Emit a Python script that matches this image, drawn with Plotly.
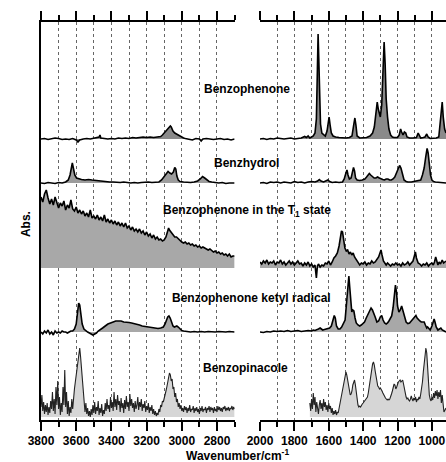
import plotly.graph_objects as go

# ---------------- data (wavenumber / cm-1, absorbance in arbitrary units above each baseline) -------------
OFFSET_BENZOPHENONE = 281
OFFSET_BENZHYDROL = 237
OFFSET_T1 = 152
OFFSET_KETYL = 88
OFFSET_PINACOLE = 3

BENZOPHENONE_HIGH = [
    (3800, 0), (3780, 0.5), (3760, -0.5), (3740, 0), (3720, 1), (3700, 0.5), (3680, -0.5), (3660, 0),
    (3640, -0.5), (3620, 0.5), (3600, -1), (3590, -3), (3580, -1), (3560, 0), (3540, 0.5), (3520, 0),
    (3500, 0.5), (3480, 1), (3470, 2), (3465, 4), (3460, 1), (3440, 0.5), (3420, 0), (3400, 0.5),
    (3380, 0), (3360, 1), (3340, 0.5), (3320, 1), (3300, 0.5), (3280, 1.5), (3260, 1), (3240, 1.5),
    (3220, 2), (3200, 1.5), (3180, 2), (3160, 1.5), (3140, 2), (3120, 2.5), (3110, 4), (3100, 6),
    (3090, 8), (3080, 9.5), (3070, 11), (3065, 13), (3060, 12), (3055, 10), (3050, 8), (3040, 6),
    (3030, 5), (3020, 3.5), (3010, 2.5), (3000, 1.5), (2990, 1), (2980, 0.5), (2960, 0), (2940, -1),
    (2920, 0.5), (2900, 0), (2890, -2), (2880, 0), (2860, 0.5), (2840, 0), (2820, -0.5), (2800, 0),
    (2780, 0.5), (2760, -0.5), (2740, 0), (2720, -1), (2700, 0),
]
BENZOPHENONE_LOW = [
    (2000, 0), (1980, 0.5), (1960, -0.5), (1940, 0.5), (1920, 0), (1900, 1), (1880, 0.5), (1860, 0),
    (1840, 0.5), (1820, 1), (1800, 0), (1780, 0.5), (1760, 1), (1740, 2.5), (1730, 1.5), (1720, 3),
    (1710, 1), (1700, 2), (1690, 3), (1680, 6), (1672, 20), (1666, 70), (1662, 105), (1658, 80),
    (1654, 40), (1648, 15), (1640, 6), (1630, 4), (1620, 3), (1610, 8), (1603, 20), (1598, 22),
    (1592, 14), (1585, 6), (1575, 3), (1560, 2), (1540, 1.5), (1520, 1), (1500, 1), (1480, 1.5),
    (1465, 3), (1455, 14), (1448, 21), (1442, 14), (1435, 3), (1420, 1), (1400, 1), (1380, 1.5),
    (1360, 3), (1345, 6), (1335, 12), (1325, 28), (1318, 37), (1312, 30), (1306, 26), (1300, 22),
    (1292, 34), (1285, 70), (1278, 97), (1272, 75), (1266, 40), (1258, 22), (1250, 10), (1240, 4),
    (1230, 2), (1220, 1.5), (1200, 1.5), (1190, 4), (1182, 10), (1176, 7), (1168, 4), (1160, 7),
    (1152, 6), (1145, 2), (1130, 1), (1110, 1), (1090, 1.5), (1080, 6), (1074, 4), (1065, 1),
    (1050, 1.5), (1040, 2), (1030, 5), (1022, 2), (1010, 0.5), (990, 0.5), (975, 1), (960, 2),
    (952, 15), (946, 30), (940, 37), (934, 22), (926, 10), (918, 6),
]

BENZHYDROL_HIGH = [
    (3800, 0), (3780, -0.5), (3760, 0.5), (3740, 0), (3720, -0.5), (3700, 0.5), (3680, 0), (3660, 1),
    (3645, 3), (3635, 8), (3628, 17), (3622, 20), (3615, 14), (3608, 8), (3598, 5), (3585, 4),
    (3570, 3.5), (3550, 3), (3530, 3.5), (3510, 3), (3490, 2.5), (3470, 2), (3450, 2), (3430, 1.5),
    (3410, 1), (3390, 1), (3370, 0.5), (3350, 0.5), (3330, 1), (3310, 0.5), (3290, 0), (3270, 0.5),
    (3250, 0), (3230, 0.5), (3210, 1), (3190, 1), (3170, 0.5), (3150, 0.5), (3130, 1), (3115, 3),
    (3100, 6), (3088, 9), (3078, 11.5), (3068, 10), (3058, 9), (3048, 11), (3040, 15.5), (3034, 14),
    (3028, 7), (3020, 3), (3010, 1.5), (2990, 1), (2970, 0.5), (2950, 0.5), (2930, 1), (2910, 2),
    (2895, 4), (2882, 6.5), (2870, 5), (2858, 3), (2845, 1.5), (2830, 1), (2810, 0.5), (2790, 0),
    (2770, 0.5), (2750, -0.5), (2730, 0), (2710, 0.5), (2700, 0),
]
BENZHYDROL_LOW = [
    (2000, 0), (1980, 0.5), (1960, -0.5), (1940, 1), (1920, 0.5), (1900, 1), (1880, 0), (1860, 1),
    (1840, 0.5), (1820, 0), (1800, 1.5), (1780, 0.5), (1760, 1), (1740, 0), (1720, 1), (1700, 1.5),
    (1680, 1), (1665, 2), (1655, 3.5), (1645, 2), (1630, 1), (1615, 2), (1605, 3), (1595, 1.5),
    (1580, 0.5), (1560, 1), (1540, 0.5), (1520, 1), (1510, 4), (1500, 10), (1494, 13), (1488, 8),
    (1480, 4), (1470, 5), (1462, 10), (1456, 15.5), (1450, 12), (1444, 5), (1435, 3), (1420, 2.5),
    (1405, 3), (1390, 4), (1380, 6), (1370, 8), (1364, 9.5), (1356, 8), (1346, 6), (1336, 5),
    (1326, 5), (1316, 6), (1306, 5), (1296, 4), (1286, 3.5), (1276, 3), (1266, 4), (1256, 4),
    (1246, 3), (1236, 3), (1226, 4), (1216, 6), (1205, 10), (1195, 14), (1188, 17.5), (1180, 15),
    (1172, 8), (1162, 3), (1150, 1.5), (1140, 1), (1120, 1), (1100, 1.5), (1080, 2), (1065, 3),
    (1055, 8), (1045, 15), (1036, 26), (1028, 34.5), (1022, 30), (1015, 18), (1008, 8), (1000, 3),
    (990, 1.5), (980, 1), (960, 0.5), (940, 0.5), (918, 0),
]

T1_HIGH = [
    (3800, 71), (3790, 66), (3780, 74), (3770, 78), (3760, 70), (3750, 64), (3740, 69), (3730, 63),
    (3720, 71), (3710, 66), (3700, 60), (3690, 65), (3680, 62), (3670, 67), (3660, 58), (3650, 63),
    (3640, 60), (3630, 68), (3620, 59), (3610, 57), (3600, 61), (3590, 55), (3580, 58), (3570, 54),
    (3560, 57), (3550, 52), (3540, 55), (3530, 51), (3520, 58), (3510, 50), (3500, 52), (3490, 49),
    (3480, 53), (3470, 48), (3460, 51), (3450, 47), (3440, 53), (3430, 46), (3420, 49), (3410, 45),
    (3400, 48), (3390, 44), (3380, 47), (3370, 43), (3360, 46), (3350, 42), (3340, 45), (3330, 41),
    (3320, 45), (3310, 40), (3300, 42), (3290, 38), (3280, 41), (3270, 37), (3260, 39), (3250, 36),
    (3240, 39), (3230, 35), (3220, 37), (3210, 33), (3200, 36), (3190, 32), (3180, 34), (3170, 30),
    (3160, 33), (3150, 29), (3140, 31), (3130, 28), (3120, 29), (3110, 27), (3100, 28), (3090, 31),
    (3080, 37), (3075, 40), (3070, 38), (3060, 36), (3050, 34), (3040, 31), (3030, 31), (3020, 29),
    (3010, 27), (3000, 26), (2990, 25), (2980, 26), (2970, 24), (2960, 25), (2950, 23), (2940, 24),
    (2930, 22), (2920, 23), (2910, 21), (2900, 22), (2890, 20), (2880, 21), (2870, 20), (2860, 19),
    (2850, 18), (2840, 19), (2830, 17), (2820, 16), (2810, 17), (2800, 15), (2790, 16), (2780, 14),
    (2770, 15), (2760, 13), (2750, 14), (2740, 12), (2730, 14), (2720, 11), (2710, 12), (2700, 12),
]
T1_LOW = [
    (2000, 6), (1990, 4), (1980, 7), (1970, 5), (1960, 8), (1950, 4), (1940, 6), (1930, 5),
    (1920, 7), (1910, 3), (1900, 6), (1890, 5), (1880, 8), (1870, 4), (1860, 6), (1850, 3),
    (1840, 5), (1830, 7), (1820, 4), (1810, 6), (1800, 3), (1790, 5), (1780, 7), (1770, 4),
    (1760, 5), (1750, 2), (1740, 5), (1730, 3), (1720, 6), (1710, 2), (1700, 4), (1690, 1),
    (1680, 3), (1672, -10), (1666, 2), (1660, 4), (1650, 1), (1640, 3), (1630, 2), (1620, 5),
    (1610, 4), (1600, 7), (1590, 3), (1580, 6), (1570, 10), (1560, 12), (1550, 15), (1540, 22),
    (1532, 30), (1526, 37), (1520, 36), (1514, 28), (1506, 20), (1498, 17), (1490, 18), (1482, 14),
    (1474, 16), (1466, 13), (1458, 15), (1450, 11), (1440, 8), (1430, 5), (1420, 3), (1410, 5),
    (1400, 4), (1390, 6), (1380, 3), (1370, 5), (1360, 4), (1350, 7), (1340, 5), (1330, 6),
    (1320, 8), (1310, 11), (1302, 15), (1296, 18), (1290, 13), (1282, 7), (1274, 5), (1266, 3),
    (1258, 5), (1250, 4), (1240, 2), (1230, 4), (1220, 3), (1210, 5), (1200, 3), (1190, 4),
    (1180, 2), (1170, 5), (1160, 3), (1150, 4), (1140, 6), (1130, 3), (1120, 5), (1110, 7),
    (1102, 12), (1096, 16), (1090, 10), (1080, 5), (1070, 4), (1060, 2), (1050, 4), (1040, 3),
    (1030, 5), (1020, 2), (1010, 4), (1000, 5), (992, 3), (985, 6), (978, 11), (972, 7),
    (965, 3), (958, 6), (950, 4), (940, 8), (932, 5), (918, 7),
]

KETYL_HIGH = [
    (3800, 0), (3790, -2), (3780, 1), (3770, -1), (3760, 2), (3750, -2), (3740, 0), (3730, -3),
    (3720, 1), (3710, -1), (3700, 0), (3690, -1), (3680, 1), (3670, 0), (3660, 0), (3650, -1),
    (3640, 0), (3630, 1), (3620, 1), (3610, 3), (3600, 8), (3592, 20), (3586, 29), (3580, 27),
    (3574, 18), (3566, 8), (3556, 3), (3545, 1), (3535, 0), (3525, -1), (3515, -2), (3505, -3),
    (3495, -2), (3485, -1), (3475, 1), (3465, 2), (3450, 4), (3435, 6), (3420, 8), (3405, 9),
    (3390, 10), (3375, 11), (3360, 11), (3345, 11), (3330, 10), (3315, 10), (3300, 9.5), (3285, 9),
    (3270, 8.5), (3255, 8), (3240, 7), (3225, 6), (3210, 5.5), (3195, 5), (3180, 4.5), (3165, 4),
    (3150, 3.5), (3135, 3.5), (3120, 4), (3105, 5), (3095, 8), (3087, 12), (3080, 15), (3073, 16),
    (3066, 14), (3058, 10), (3050, 6), (3042, 5), (3035, 5.5), (3028, 6), (3020, 5), (3010, 3),
    (3000, 1.5), (2990, 1), (2970, 0.5), (2950, 0), (2930, 0.5), (2910, 0), (2890, 0.5), (2870, 0),
    (2850, 0.5), (2830, 0), (2810, 0), (2790, 0.5), (2770, 0), (2750, 0), (2730, 0.5), (2700, 0),
]
KETYL_LOW = [
    (2000, 0), (1980, -0.5), (1960, 0.5), (1940, 0), (1920, 1), (1900, 0.5), (1880, 1), (1860, 0.5),
    (1840, 1.5), (1820, 0.5), (1800, 1), (1780, 1.5), (1760, 0.5), (1740, 1), (1720, 1.5), (1700, 1),
    (1690, 2), (1680, 1.5), (1670, 2), (1660, 3), (1650, 4), (1643, 3), (1635, 2), (1625, 2.5),
    (1615, 3), (1605, 3.5), (1595, 4), (1585, 6), (1576, 12), (1568, 16.5), (1562, 14), (1555, 6),
    (1545, 3), (1535, 3), (1525, 5), (1515, 8), (1505, 12), (1496, 30), (1488, 50), (1483, 56),
    (1478, 45), (1472, 30), (1466, 20), (1460, 22), (1454, 21), (1447, 14), (1440, 9), (1430, 7),
    (1420, 6), (1411, 7), (1402, 9), (1392, 10), (1382, 14), (1372, 18), (1362, 22), (1354, 24),
    (1346, 22), (1338, 19), (1330, 15), (1320, 10), (1310, 11), (1300, 15), (1292, 16.5), (1284, 12),
    (1275, 9), (1266, 8), (1258, 9), (1250, 11), (1242, 13), (1234, 16), (1226, 24), (1218, 38),
    (1212, 47), (1206, 40), (1200, 26), (1192, 20), (1184, 22), (1176, 26), (1168, 21), (1160, 14),
    (1150, 10), (1140, 8.5), (1130, 9), (1120, 11), (1110, 13), (1100, 15), (1093, 16.5), (1086, 14),
    (1078, 12), (1070, 11), (1062, 10), (1054, 10), (1045, 10), (1038, 7), (1030, 4), (1025, 5),
    (1018, 3), (1010, 2), (1000, 6), (993, 11), (987, 13), (982, 10), (975, 5), (965, 2),
    (955, 3), (948, 4), (940, 2), (932, 1), (918, 0),
]

PINACOLE_HIGH = [
    (3800, 10), (3795, 22), (3790, 6), (3785, 15), (3780, 3), (3775, 12), (3770, 5), (3765, 14),
    (3760, 2), (3755, 10), (3750, 4), (3745, 16), (3740, 8), (3735, 25), (3730, 6), (3725, 18),
    (3720, 3), (3715, 30), (3710, 12), (3705, 36), (3700, 8), (3695, 20), (3690, 2), (3685, 14),
    (3680, 5), (3675, 30), (3670, 12), (3665, 47), (3660, 10), (3655, 25), (3650, 3), (3645, 16),
    (3640, 1), (3635, 10), (3630, 4), (3625, 18), (3620, 8), (3615, 22), (3610, 28), (3605, 35),
    (3600, 42), (3595, 50), (3590, 58), (3585, 66), (3580, 69), (3575, 60), (3570, 48), (3565, 35),
    (3560, 22), (3555, 12), (3550, 5), (3545, 14), (3540, 3), (3535, 9), (3530, 1), (3525, 6),
    (3520, 0), (3515, 8), (3510, 2), (3505, 12), (3500, 4), (3495, 15), (3490, 3), (3485, 10),
    (3480, 6), (3475, 16), (3470, 2), (3465, 9), (3460, 4), (3455, 13), (3450, 1), (3445, 7),
    (3440, 3), (3435, 14), (3430, 6), (3425, 18), (3420, 8), (3415, 12), (3410, 5), (3405, 20),
    (3400, 9), (3395, 15), (3390, 6), (3385, 25), (3380, 10), (3375, 18), (3370, 7), (3365, 22),
    (3360, 12), (3355, 16), (3350, 5), (3345, 19), (3340, 9), (3335, 14), (3330, 4), (3325, 17),
    (3320, 8), (3315, 21), (3310, 10), (3305, 15), (3300, 6), (3295, 23), (3290, 11), (3285, 18),
    (3280, 9), (3275, 14), (3270, 5), (3265, 16), (3260, 8), (3255, 12), (3250, 20), (3245, 7),
    (3240, 15), (3235, 10), (3230, 18), (3225, 6), (3220, 13), (3215, 9), (3210, 16), (3205, 5),
    (3200, 11), (3195, 7), (3190, 14), (3185, 4), (3180, 10), (3175, 6), (3170, 12), (3165, 3),
    (3160, 8), (3155, 2), (3150, 6), (3145, 1), (3140, 4), (3135, 2), (3130, 8), (3125, 5),
    (3120, 12), (3115, 10), (3110, 16), (3105, 15), (3100, 20), (3095, 22), (3090, 26), (3085, 30),
    (3080, 35), (3075, 40), (3070, 44), (3065, 42), (3060, 36), (3055, 38), (3050, 28), (3045, 30),
    (3040, 20), (3035, 24), (3030, 15), (3025, 18), (3020, 10), (3015, 14), (3010, 8), (3005, 12),
    (3000, 6), (2995, 9), (2990, 5), (2985, 11), (2980, 7), (2975, 10), (2970, 4), (2965, 9),
    (2960, 6), (2955, 12), (2950, 5), (2945, 8), (2940, 7), (2935, 11), (2930, 4), (2925, 9),
    (2920, 6), (2915, 10), (2910, 5), (2905, 8), (2900, 3), (2895, 9), (2890, 6), (2885, 11),
    (2880, 5), (2875, 8), (2870, 7), (2865, 10), (2860, 4), (2855, 9), (2850, 7), (2845, 11),
    (2840, 5), (2835, 10), (2830, 7), (2825, 9), (2820, 4), (2815, 10), (2810, 6), (2805, 8),
    (2800, 5), (2795, 11), (2790, 7), (2785, 10), (2780, 6), (2775, 9), (2770, 5), (2765, 10),
    (2760, 8), (2755, 11), (2750, 6), (2745, 9), (2740, 7), (2735, 10), (2730, 6), (2725, 9),
    (2720, 8), (2715, 11), (2710, 7), (2705, 10), (2700, 8),
]
PINACOLE_LOW = [
    (1710, 14), (1705, 6), (1700, 18), (1695, 8), (1690, 24), (1685, 12), (1680, 20), (1675, 5),
    (1670, 15), (1665, 9), (1660, 3), (1655, 12), (1650, 17), (1645, 8), (1640, 14), (1635, 6),
    (1630, 18), (1625, 10), (1620, 15), (1615, 7), (1610, 12), (1605, 5), (1600, 14), (1595, 8),
    (1590, 11), (1585, 4), (1580, 9), (1575, 2), (1570, 6), (1565, 3), (1560, 7), (1555, 2),
    (1550, 5), (1545, 4), (1540, 9), (1535, 12), (1530, 16), (1525, 20), (1520, 26), (1515, 32),
    (1510, 38), (1505, 42), (1500, 45), (1495, 42), (1490, 36), (1485, 30), (1480, 25), (1475, 22),
    (1470, 23), (1465, 26), (1460, 32), (1455, 36), (1450, 37), (1445, 32), (1440, 24), (1435, 16),
    (1430, 12), (1425, 10), (1420, 11), (1415, 10), (1410, 12), (1405, 13), (1400, 14), (1395, 15),
    (1390, 16), (1385, 17), (1380, 18), (1375, 20), (1370, 24), (1365, 30), (1360, 38), (1355, 45),
    (1350, 50), (1345, 53), (1340, 55), (1335, 52), (1330, 46), (1325, 40), (1320, 35), (1315, 31),
    (1310, 30), (1305, 28), (1300, 29), (1295, 28), (1290, 26), (1285, 24), (1280, 22), (1275, 20),
    (1270, 19), (1265, 18), (1260, 17), (1255, 18), (1250, 17), (1245, 18), (1240, 20), (1235, 23),
    (1230, 26), (1225, 30), (1220, 33), (1215, 32), (1210, 28), (1205, 30), (1200, 33), (1195, 35),
    (1190, 36), (1185, 37), (1180, 35), (1175, 36), (1170, 37), (1165, 33), (1160, 28), (1155, 23),
    (1150, 20), (1145, 18), (1140, 19), (1135, 17), (1130, 16), (1125, 18), (1120, 21), (1115, 18),
    (1110, 16), (1105, 19), (1100, 17), (1095, 20), (1090, 15), (1085, 18), (1080, 17), (1075, 20),
    (1070, 18), (1065, 23), (1060, 28), (1055, 35), (1050, 45), (1045, 55), (1040, 62), (1035, 69),
    (1030, 64), (1025, 48), (1020, 32), (1015, 22), (1010, 18), (1005, 16), (1000, 20), (995, 17),
    (990, 24), (985, 19), (980, 26), (975, 21), (970, 27), (965, 18), (960, 25), (955, 20),
    (950, 27), (945, 14), (940, 22), (935, 10), (930, 5), (918, 9),
]

LABELS = ["Benzophenone", "Benzhydrol", "Benzophenone in the T<sub>1</sub> state",
          "Benzophenone ketyl radical", "Benzopinacole"]
LABEL_Y = [331, 257, 209, 122, 52]
LABEL_X = [0.5086, 0.5086, 0.5086, 0.519, 0.506]

# ---------------- figure ----------------
FONT = "Liberation Sans, Arial, sans-serif"
fig = go.Figure()


def add_spectrum(points, base, axis, fillcolor, lw=1.6, lc="black"):
    xs = [p[0] for p in points]
    ys = [base + p[1] for p in points]
    fig.add_trace(go.Scatter(x=[xs[0], xs[-1]], y=[base, base], xaxis=axis, yaxis="y",
                             mode="lines", line=dict(width=0, color="rgba(0,0,0,0)"),
                             hoverinfo="skip", showlegend=False))
    fig.add_trace(go.Scatter(x=xs, y=ys, xaxis=axis, yaxis="y", mode="lines",
                             fill="tonexty", fillcolor=fillcolor,
                             line=dict(color=lc, width=lw), showlegend=False))


add_spectrum(BENZOPHENONE_HIGH, OFFSET_BENZOPHENONE, "x", "#8a8a8a")
add_spectrum(BENZOPHENONE_LOW, OFFSET_BENZOPHENONE, "x2", "#8a8a8a")
add_spectrum(BENZHYDROL_HIGH, OFFSET_BENZHYDROL, "x", "#9c9c9c")
add_spectrum(BENZHYDROL_LOW, OFFSET_BENZHYDROL, "x2", "#9c9c9c")
add_spectrum(T1_HIGH, OFFSET_T1, "x", "#a8a8a8")
add_spectrum(T1_LOW, OFFSET_T1, "x2", "#a8a8a8")
add_spectrum(KETYL_HIGH, OFFSET_KETYL, "x", "#a8a8a8")
add_spectrum(KETYL_LOW, OFFSET_KETYL, "x2", "#a8a8a8")
add_spectrum(PINACOLE_HIGH, OFFSET_PINACOLE, "x", "#d6d6d6", lw=1.1, lc="#222222")
add_spectrum(PINACOLE_LOW, OFFSET_PINACOLE, "x2", "#d6d6d6", lw=1.1, lc="#222222")

grid = dict(showgrid=True, gridcolor="#666666", griddash="dot", gridwidth=1)
xcommon = dict(
    showline=True, linecolor="black", linewidth=2, mirror="ticks",
    ticks="outside", ticklen=9, tickwidth=2, tickcolor="black",
    tick0=0, dtick=200,
    minor=dict(tick0=0, dtick=100, ticks="outside", ticklen=5, tickwidth=2, tickcolor="black", **grid),
    tickfont=dict(family=FONT, size=12, color="black", weight="bold"),
    ticklabeloverflow="allow",
    zeroline=False, anchor="y", **grid,
)

fig.update_layout(
    width=446, height=462,
    margin=dict(l=41, r=0, t=22, b=42),
    paper_bgcolor="white", plot_bgcolor="white",
    xaxis=dict(domain=[0, 0.478], range=[3800, 2700], **xcommon),
    xaxis2=dict(domain=[0.5407, 1], range=[2000, 918], **xcommon),
    yaxis=dict(range=[0, 398], showline=True, linecolor="black", linewidth=2,
               showticklabels=False, ticks="", showgrid=False, zeroline=False, anchor="x"),
    showlegend=False,
)

for text, x, y in zip(LABELS, LABEL_X, LABEL_Y):
    fig.add_annotation(text=f"<b>{text}</b>", xref="paper", yref="y", x=x, y=y,
                       showarrow=False, font=dict(family=FONT, size=12, color="black"),
                       bgcolor="rgba(0,0,0,0)")

fig.add_annotation(text="<b>Abs.</b>", xref="paper", yref="y", x=-0.059, y=196, textangle=-90,
                   showarrow=False, font=dict(family=FONT, size=12, color="black"))
fig.add_annotation(text="<b>Wavenumber/cm<sup>-1</sup></b>", xref="paper", yref="paper",
                   x=0.486, y=-0.088, showarrow=False, yanchor="middle",
                   font=dict(family=FONT, size=12, color="black"))

fig.write_html("out.html")
